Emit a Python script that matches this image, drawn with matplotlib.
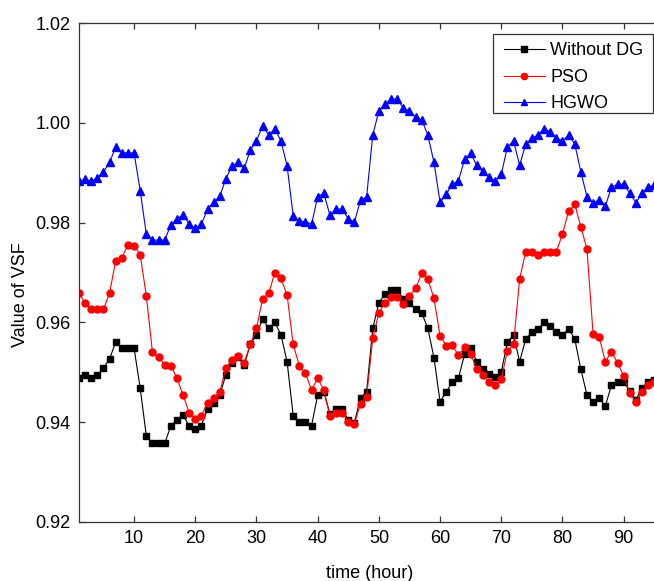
import matplotlib
matplotlib.use("Agg")
import matplotlib.pyplot as plt
from matplotlib.patches import Rectangle
import numpy as np

plt.rcParams['font.family'] = ['Liberation Sans', 'DejaVu Sans']

hours = list(range(1, 96))

without_dg = [0.9488, 0.9494, 0.9488, 0.9494, 0.9508, 0.9527, 0.9560, 0.9548, 0.9548, 0.9548,
              0.9468, 0.9372, 0.9357, 0.9357, 0.9357, 0.9392, 0.9405, 0.9414, 0.9392, 0.9385,
              0.9393, 0.9427, 0.9439, 0.9454, 0.9495, 0.9519, 0.9530, 0.9514, 0.9556, 0.9575,
              0.9607, 0.9588, 0.9600, 0.9575, 0.9521, 0.9413, 0.9401, 0.9401, 0.9393, 0.9454,
              0.9460, 0.9417, 0.9426, 0.9426, 0.9404, 0.9399, 0.9448, 0.9461, 0.9588, 0.9639,
              0.9657, 0.9665, 0.9665, 0.9647, 0.9639, 0.9626, 0.9619, 0.9588, 0.9529, 0.9441,
              0.9460, 0.9481, 0.9488, 0.9536, 0.9548, 0.9521, 0.9506, 0.9496, 0.9490, 0.9501,
              0.9560, 0.9575, 0.9521, 0.9567, 0.9580, 0.9587, 0.9600, 0.9593, 0.9580, 0.9575,
              0.9587, 0.9567, 0.9506, 0.9454, 0.9441, 0.9448, 0.9432, 0.9474, 0.9481, 0.9481,
              0.9462, 0.9445, 0.9468, 0.9481, 0.9485]

pso = [0.9659, 0.9638, 0.9626, 0.9626, 0.9626, 0.9659, 0.9724, 0.9730, 0.9755, 0.9754,
       0.9736, 0.9653, 0.9540, 0.9530, 0.9514, 0.9513, 0.9488, 0.9454, 0.9419, 0.9407,
       0.9413, 0.9439, 0.9448, 0.9460, 0.9508, 0.9524, 0.9532, 0.9519, 0.9556, 0.9588,
       0.9647, 0.9658, 0.9700, 0.9688, 0.9655, 0.9556, 0.9513, 0.9498, 0.9464, 0.9488,
       0.9464, 0.9412, 0.9419, 0.9419, 0.9401, 0.9396, 0.9437, 0.9451, 0.9568, 0.9619,
       0.9639, 0.9650, 0.9650, 0.9637, 0.9653, 0.9668, 0.9698, 0.9687, 0.9648, 0.9573,
       0.9553, 0.9554, 0.9534, 0.9551, 0.9536, 0.9506, 0.9494, 0.9480, 0.9474, 0.9486,
       0.9543, 0.9556, 0.9687, 0.9742, 0.9742, 0.9736, 0.9742, 0.9742, 0.9742, 0.9777,
       0.9823, 0.9837, 0.9792, 0.9747, 0.9577, 0.9571, 0.9521, 0.9541, 0.9519, 0.9492,
       0.9459, 0.9440, 0.9461, 0.9474, 0.9480]

hgwo = [0.9883, 0.9887, 0.9883, 0.9890, 0.9902, 0.9921, 0.9952, 0.9940, 0.9940, 0.9940,
        0.9864, 0.9777, 0.9765, 0.9765, 0.9765, 0.9795, 0.9807, 0.9816, 0.9797, 0.9789,
        0.9797, 0.9827, 0.9841, 0.9853, 0.9888, 0.9914, 0.9921, 0.9909, 0.9946, 0.9964,
        0.9994, 0.9976, 0.9988, 0.9964, 0.9914, 0.9814, 0.9803, 0.9802, 0.9797, 0.9852,
        0.9859, 0.9815, 0.9827, 0.9827, 0.9808, 0.9801, 0.9845, 0.9852, 0.9976, 1.0024,
        1.0039, 1.0048, 1.0048, 1.0030, 1.0024, 1.0012, 1.0006, 0.9976, 0.9921, 0.9841,
        0.9857, 0.9877, 0.9884, 0.9927, 0.9939, 0.9915, 0.9903, 0.9891, 0.9883, 0.9897,
        0.9952, 0.9964, 0.9915, 0.9958, 0.9969, 0.9976, 0.9988, 0.9982, 0.9970, 0.9964,
        0.9976, 0.9958, 0.9902, 0.9852, 0.9840, 0.9845, 0.9833, 0.9871, 0.9877, 0.9877,
        0.9859, 0.9840, 0.9859, 0.9871, 0.9876]

series_labels = ['Without DG', 'PSO', 'HGWO']
x_ticks = [10, 20, 30, 40, 50, 60, 70, 80, 90]
y_ticks = [0.92, 0.94, 0.96, 0.98, 1.00, 1.02]

W, H = 654, 581
fig = plt.figure(figsize=(W / 100, H / 100), dpi=100)
left, right, top, bottom = 79, 660.4, 23.3, 521.7
ax = fig.add_axes([left / W, 1 - bottom / H, (right - left) / W, (bottom - top) / H])

ax.plot(hours, without_dg, '-s', color='k', lw=0.8, ms=4.5, label=series_labels[0])
ax.plot(hours, pso, '-o', color='r', lw=0.8, ms=5, label=series_labels[1])
ax.plot(hours, hgwo, '-^', color='b', lw=0.8, ms=5.5, label=series_labels[2])

ax.set_xlim(1, 96)
ax.set_ylim(0.92, 1.02)
ax.set_xticks(x_ticks)
ax.set_yticks(y_ticks)
ax.set_yticklabels([f'{v:.2f}' for v in y_ticks])
ax.tick_params(direction='in', top=True, right=True, length=4.5, width=0.9,
               labelsize=13, color='#333333', pad=6)
for s in ax.spines.values():
    s.set_color('#333333')
    s.set_linewidth(0.9)

ax.set_xlabel('time (hour)', fontsize=13, labelpad=13)
ax.set_ylabel('Value of VSF', fontsize=13)
ax.yaxis.set_label_coords((29 - left) / (right - left), (bottom - 295) / (bottom - top))

# legend box (drawn as a separate frame to match the reference padding)
bx0, by0, bx1, by1 = 492.7, 34, 653, 113
ax.add_patch(Rectangle((bx0 / W, 1 - by1 / H), (bx1 - bx0) / W, (by1 - by0) / H,
                       transform=fig.transFigure, facecolor='white', clip_on=False,
                       edgecolor='#333333', linewidth=0.9, zorder=4))

leg = ax.legend(loc='upper left', bbox_to_anchor=(bx0 / W, 1 - 31 / H),
                bbox_transform=fig.transFigure, borderaxespad=0, frameon=False,
                fontsize=13, handlelength=2.25, handletextpad=0.3, labelspacing=0.53,
                borderpad=0.625, markerscale=0.9)
leg.set_zorder(5)

fig.savefig('out.png', dpi=100)
